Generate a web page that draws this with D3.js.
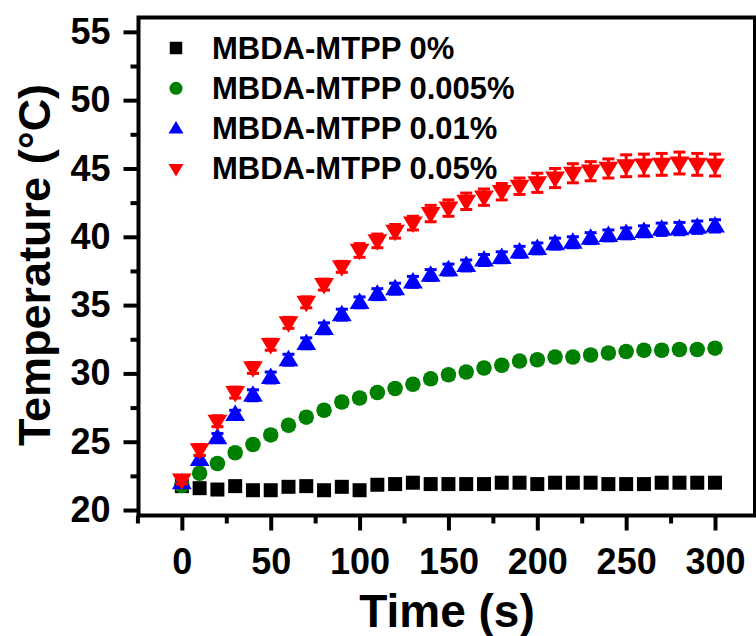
<!DOCTYPE html>
<html lang="en">
<head>
    <meta charset="UTF-8">
    <title>temperature</title>
    <style>
        body { margin: 0; background: #fff; }
        svg text { font-family: "Liberation Sans", Arial, sans-serif; font-weight: bold; }
    </style>
</head>
<body>
<svg id="chart"></svg>

<script src="https://cdn.jsdelivr.net/npm/d3@7"></script>
<script>
    var width = 756;
    var height = 636;

    // data
    var times = [0, 10, 20, 30, 40, 50, 60, 70, 80, 90, 100, 110, 120, 130, 140, 150,
                 160, 170, 180, 190, 200, 210, 220, 230, 240, 250, 260, 270, 280, 290, 300];
    var t0 = [21.75, 21.6, 21.5, 21.75, 21.45, 21.45, 21.7, 21.75, 21.45, 21.7, 21.45, 21.85, 21.9, 22.0, 21.9, 21.9,
              21.9, 21.9, 22.0, 22.0, 21.9, 22.0, 22.0, 22.0, 21.9, 21.9, 21.9, 22.0, 22.0, 22.0, 22.0];
    var t005 = [21.8, 22.7, 23.4, 24.2, 24.8, 25.5, 26.2, 26.8, 27.3, 27.9, 28.2, 28.6, 28.9, 29.2, 29.6, 29.9,
                30.1, 30.4, 30.6, 30.9, 31.0, 31.2, 31.2, 31.35, 31.5, 31.6, 31.7, 31.7, 31.75, 31.75, 31.85];
    var t01 = [22.0, 23.7, 25.3, 27.0, 28.4, 29.7, 31.0, 32.2, 33.3, 34.3, 35.2, 35.8, 36.2, 36.7, 37.2, 37.6,
               37.9, 38.3, 38.5, 38.9, 39.15, 39.5, 39.6, 39.9, 40.1, 40.25, 40.4, 40.55, 40.6, 40.7, 40.8];
    var t05 = [22.2, 24.4, 26.5, 28.6, 30.4, 32.1, 33.7, 35.2, 36.5, 37.8, 39.0, 39.7, 40.4, 41.0, 41.7, 42.1,
               42.6, 42.9, 43.3, 43.7, 43.95, 44.3, 44.65, 44.8, 45.0, 45.2, 45.25, 45.3, 45.4, 45.3, 45.25];
    var e0 = [0.3, 0.3, 0.3, 0.3, 0.3, 0.3, 0.3, 0.3, 0.3, 0.3, 0.3, 0.3, 0.3, 0.3, 0.3, 0.3,
              0.3, 0.3, 0.3, 0.3, 0.3, 0.3, 0.3, 0.3, 0.3, 0.3, 0.3, 0.3, 0.3, 0.3, 0.3];
    var e005 = [0.2, 0.3, 0.3, 0.3, 0.3, 0.3, 0.3, 0.3, 0.3, 0.3, 0.3, 0.3, 0.3, 0.3, 0.3, 0.3,
                0.3, 0.3, 0.3, 0.3, 0.3, 0.3, 0.3, 0.3, 0.3, 0.3, 0.3, 0.3, 0.3, 0.3, 0.3];
    var e01 = [0.3, 0.3, 0.3, 0.3, 0.4, 0.4, 0.4, 0.4, 0.4, 0.4, 0.4, 0.4, 0.4, 0.4, 0.4, 0.4,
               0.4, 0.4, 0.4, 0.4, 0.4, 0.4, 0.4, 0.4, 0.4, 0.4, 0.4, 0.45, 0.45, 0.45, 0.45];
    var e05 = [0.3, 0.4, 0.4, 0.4, 0.4, 0.4, 0.4, 0.4, 0.4, 0.4, 0.5, 0.5, 0.5, 0.5, 0.6, 0.6,
               0.6, 0.6, 0.6, 0.6, 0.7, 0.7, 0.7, 0.7, 0.7, 0.8, 0.8, 0.8, 0.8, 0.8, 0.8];

    var names = ["MBDA-MTPP 0%", "MBDA-MTPP 0.005%", "MBDA-MTPP 0.01%", "MBDA-MTPP 0.05%"];
    var colors = ["#000000", "#008000", "#0000ff", "#ff0000"];
    var shapes = ["square", "circle", "up", "down"];
    var yValues = [t0, t005, t01, t05];
    var yErrors = [e0, e005, e01, e05];

    var xTicks = [0, 50, 100, 150, 200, 250, 300];
    var xMinor = [-25, 25, 75, 125, 175, 225, 275];
    var yTicks = [20, 25, 30, 35, 40, 45, 50, 55];
    var yMinor = [22.5, 27.5, 32.5, 37.5, 42.5, 47.5, 52.5];

    // plot box (window.top is read-only, so no plain "top")
    var boxL = 138.5, boxR = 755, boxT = 17.5, boxB = 515.5;

    var x = d3.scaleLinear().domain([-24.4, 322.5]).range([boxL, boxR]);
    var y = d3.scaleLinear().domain([19.6, 56.05]).range([boxB, boxT]);

    var svg = d3.select("#chart")
        .attr("width", width)
        .attr("height", height);

    // marker path, centred on 0,0
    function marker(shape, s) {
        if (shape == "square") {
            return "M" + (-s / 2) + "," + (-s / 2) + "h" + s + "v" + s + "h" + (-s) + "Z";
        }
        if (shape == "circle") {
            var r = s / 2;
            return "M" + (-r) + ",0A" + r + "," + r + " 0 1,0 " + r + ",0A" + r + "," + r + " 0 1,0 " + (-r) + ",0Z";
        }
        var w = s * 1.2, h = s;
        if (shape == "up") {
            return "M0," + (-h * 0.6) + "L" + (w / 2) + "," + (h * 0.4) + "L" + (-w / 2) + "," + (h * 0.4) + "Z";
        }
        return "M0," + (h * 0.6) + "L" + (w / 2) + "," + (-h * 0.4) + "L" + (-w / 2) + "," + (-h * 0.4) + "Z";
    }
    var markerSize = [14, 15.5, 16.5, 16.5];

    // axes: major and minor ticks drawn outward
    svg.append("g")
        .attr("transform", "translate(0," + boxB + ")")
        .call(d3.axisBottom(x).tickValues(xTicks).tickSize(15).tickPadding(18).tickSizeOuter(0));
    svg.append("g")
        .attr("transform", "translate(0," + boxB + ")")
        .call(d3.axisBottom(x).tickValues(xMinor).tickSize(8).tickFormat("").tickSizeOuter(0));
    svg.append("g")
        .attr("transform", "translate(" + boxL + ",0)")
        .call(d3.axisLeft(y).tickValues(yTicks).tickSize(15).tickPadding(13).tickSizeOuter(0));
    svg.append("g")
        .attr("transform", "translate(" + boxL + ",0)")
        .call(d3.axisLeft(y).tickValues(yMinor).tickSize(8).tickFormat("").tickSizeOuter(0));

    svg.selectAll(".domain").remove();
    svg.selectAll(".tick line").attr("stroke", "#000").attr("stroke-width", 4);
    svg.selectAll(".tick text")
        .attr("fill", "#000")
        .style("font-size", "36px");

    // frame
    svg.append("rect")
        .attr("x", boxL)
        .attr("y", boxT)
        .attr("width", boxR - boxL)
        .attr("height", boxB - boxT)
        .attr("fill", "none")
        .attr("stroke", "#000")
        .attr("stroke-width", 4);

    // series: error bars then markers
    var plot = svg.append("g");
    yValues.forEach(function(vals, k) {
        var g = plot.append("g");
        var pts = times.map(function(t, i) {
            return { t: t, v: vals[i], e: yErrors[k][i] };
        });
        var bars = g.selectAll(".err")
            .data(pts)
            .enter()
            .append("g")
            .attr("stroke", colors[k])
            .attr("stroke-width", 3);
        bars.append("line")
            .attr("x1", function(d) { return x(d.t); })
            .attr("x2", function(d) { return x(d.t); })
            .attr("y1", function(d) { return y(d.v - d.e); })
            .attr("y2", function(d) { return y(d.v + d.e); });
        bars.append("line")
            .attr("x1", function(d) { return x(d.t) - 6; })
            .attr("x2", function(d) { return x(d.t) + 6; })
            .attr("y1", function(d) { return y(d.v + d.e); })
            .attr("y2", function(d) { return y(d.v + d.e); });
        bars.append("line")
            .attr("x1", function(d) { return x(d.t) - 6; })
            .attr("x2", function(d) { return x(d.t) + 6; })
            .attr("y1", function(d) { return y(d.v - d.e); })
            .attr("y2", function(d) { return y(d.v - d.e); });

        g.selectAll(".pt")
            .data(pts)
            .enter()
            .append("path")
            .attr("d", marker(shapes[k], markerSize[k]))
            .attr("transform", function(d) { return "translate(" + x(d.t) + "," + y(d.v) + ")"; })
            .attr("fill", colors[k]);
    });

    // legend
    var legend = svg.append("g");
    var legendSize = [12.5, 13, 12.5, 12.5];
    names.forEach(function(n, i) {
        var cy = 48 + i * 40.3;
        legend.append("path")
            .attr("d", marker(shapes[i], legendSize[i]))
            .attr("transform", "translate(176," + cy + ")")
            .attr("fill", colors[i]);
        legend.append("text")
            .attr("x", 212)
            .attr("y", cy + 10.5)
            .style("font-size", "31px")
            .attr("fill", "#000")
            .text(n);
    });

    // axis titles
    svg.append("text")
        .attr("x", 447)
        .attr("y", 627)
        .attr("text-anchor", "middle")
        .style("font-size", "46px")
        .text("Time (s)");

    svg.append("text")
        .attr("transform", "translate(50,265) rotate(-90)")
        .attr("text-anchor", "middle")
        .style("font-size", "45px")
        .text("Temperature (°C)");
</script>
</body>
</html>
